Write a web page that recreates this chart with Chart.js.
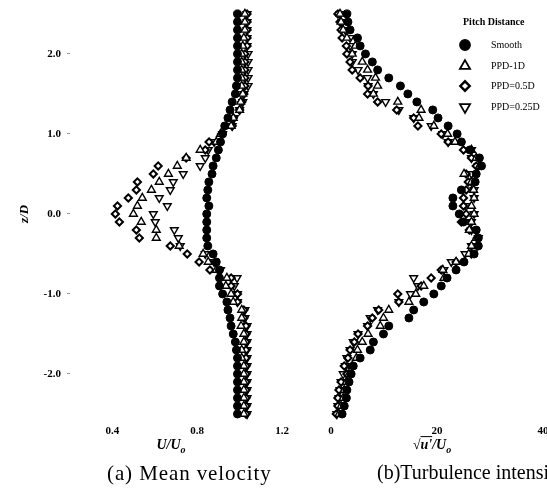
<!DOCTYPE html>
<html>
<head>
<meta charset="utf-8">
<script src="https://cdn.jsdelivr.net/npm/chart.js@4.4.1/dist/chart.umd.min.js"></script>
<style>
    html, body { margin: 0; padding: 0; background: #fff; }
    body {
        width: 547px; height: 494px; overflow: hidden; position: relative;
        font-family: "Liberation Serif", "Times New Roman", serif; color: #000;
    }
    canvas { position: absolute; top: 0; }
    #meanChart { left: 0; }
    #turbChart { left: 300px; }
    .axis-title {
        position: absolute; font-weight: bold; font-style: italic; font-size: 14px;
        white-space: nowrap; transform: translate(-50%, -50%);
    }
    .axis-title sub { font-size: 10px; }
    .caption { position: absolute; top: 461px; font-size: 20px; white-space: nowrap; }
</style>
</head>
<body>
<canvas id="meanChart" width="300" height="440"></canvas>
<canvas id="turbChart" width="260" height="440"></canvas>
<div class="axis-title" style="left:171px; top:446px;">U/U<sub>o</sub></div>
<div class="axis-title" style="left:432px; top:446px;">√<span style="text-decoration:overline">u'</span>/U<sub>o</sub></div>
<div class="caption" style="left:107px; font-size:21px; letter-spacing:0.9px;">(a) Mean velocity</div>
<div class="caption" style="left:377px;">(b)Turbulence intensity</div>

<script>
// --- data: z/D levels (top to bottom) ---
const zLevels = [
    2.5, 2.4, 2.3, 2.2, 2.1, 2.0, 1.9, 1.8, 1.7, 1.6,
    1.5, 1.4, 1.3, 1.2, 1.1, 1.0, 0.9, 0.8, 0.7, 0.6,
    0.5, 0.4, 0.3, 0.2, 0.1, 0.0, -0.1, -0.2, -0.3, -0.4,
    -0.5, -0.6, -0.7, -0.8, -0.9, -1.0, -1.1, -1.2, -1.3, -1.4,
    -1.5, -1.6, -1.7, -1.8, -1.9, -2.0, -2.1, -2.2, -2.3, -2.4,
    -2.5
];

// (a) mean velocity U/Uo
const meanSmooth = [
    0.99, 0.99, 0.99, 0.99, 0.99, 0.99, 0.99, 0.99, 0.99, 0.985,
    0.98, 0.965, 0.955, 0.945, 0.93, 0.92, 0.91, 0.90, 0.89, 0.875,
    0.87, 0.855, 0.85, 0.845, 0.855, 0.845, 0.845, 0.845, 0.845, 0.85,
    0.875, 0.89, 0.905, 0.905, 0.905, 0.92, 0.94, 0.945, 0.955, 0.96,
    0.97, 0.98, 0.985, 0.99, 0.99, 0.99, 0.99, 0.99, 0.99, 0.99,
    0.99
];
const meanPPD1 = [
    1.025, 1.025, 1.025, 1.02, 1.015, 1.01, 1.01, 1.01, 1.01, 1.01,
    1.015, 1.005, 1.0, 0.97, 0.96, 0.91, 0.89, 0.814, 0.748, 0.706,
    0.664, 0.621, 0.584, 0.541, 0.518, 0.499, 0.536, 0.607, 0.607, 0.715,
    0.828, 0.852, 0.89, 0.94, 0.935, 0.96, 0.97, 1.01, 1.01, 1.007,
    1.02, 1.02, 1.01, 1.01, 1.02, 1.02, 1.02, 1.02, 1.02, 1.02,
    1.02
];
const meanPPD05 = [
    1.035, 1.035, 1.035, 1.035, 1.035, 1.025, 1.025, 1.025, 1.025, 1.025,
    1.02, 1.01, 1.0, 0.97, 0.965, 0.915, 0.856, 0.838, 0.748, 0.616,
    0.593, 0.518, 0.513, 0.475, 0.424, 0.414, 0.433, 0.513, 0.527, 0.673,
    0.753, 0.809, 0.86, 0.96, 0.96, 0.99, 0.99, 1.02, 1.02, 1.03,
    1.03, 1.03, 1.03, 1.03, 1.03, 1.03, 1.03, 1.03, 1.03, 1.03,
    1.03
];
const meanPPD025 = [
    1.035, 1.035, 1.035, 1.035, 1.035, 1.04, 1.04, 1.04, 1.04, 1.04,
    1.02, 1.015, 1.0, 0.975, 0.965, 0.92, 0.88, 0.852, 0.838, 0.814,
    0.734, 0.687, 0.673, 0.621, 0.659, 0.593, 0.602, 0.692, 0.711, 0.72,
    0.838, 0.88, 0.91, 0.988, 0.975, 0.99, 0.99, 1.025, 1.025, 1.035,
    1.035, 1.035, 1.035, 1.035, 1.035, 1.035, 1.035, 1.035, 1.035, 1.035,
    1.035
];

// (b) turbulence intensity sqrt(u'^2)/Uo (%)
const turbSmooth = [
    3.0, 3.2, 3.6, 5.0, 5.5, 6.5, 7.8, 8.8, 10.9, 13.1,
    14.5, 16.2, 19.2, 20.2, 22.1, 23.8, 24.6, 26.2, 28.0, 28.4,
    27.4, 27.2, 24.6, 23.0, 23.0, 24.2, 25.0, 27.4, 27.8, 27.8,
    27.0, 25.1, 23.6, 21.9, 20.8, 19.4, 17.5, 15.6, 14.7, 10.9,
    9.9, 8.0, 7.4, 5.5, 4.2, 3.8, 3.4, 3.0, 2.9, 2.5,
    2.1
];
const turbPPD1 = [
    1.7, 1.9, 2.3, 3.0, 4.6, 4.0, 5.9, 6.9, 8.4, 8.8,
    8.0, 12.6, 17.0, 16.6, 19.4, 22.0, 23.4, 26.5, 27.4, 28.0,
    25.1, 26.5, 26.9, 27.0, 26.5, 27.0, 26.5, 26.1, 27.4, 26.5,
    26.0, 23.6, 21.1, 21.3, 17.5, 16.0, 14.7, 10.9, 9.9, 9.3,
    7.0, 5.9, 5.0, 4.8, 4.0, 3.4, 2.9, 2.5, 2.3, 1.9,
    1.5
];
const turbPPD05 = [
    1.3, 1.7, 1.9, 2.1, 2.9, 3.0, 3.6, 4.0, 5.5, 7.0,
    6.9, 8.8, 12.4, 15.6, 16.4, 20.8, 22.1, 25.0, 26.5, 27.4,
    25.5, 25.9, 25.5, 25.0, 25.0, 25.5, 24.6, 26.1, 27.6, 27.6,
    26.5, 23.6, 20.8, 18.9, 17.0, 12.6, 12.8, 9.0, 7.8, 6.9,
    5.1, 4.4, 3.6, 3.2, 2.5, 3.0, 1.9, 1.5, 1.3, 1.3,
    1.0
];
const turbPPD025 = [
    1.7, 2.1, 2.7, 3.6, 3.6, 4.0, 4.0, 5.1, 6.9, 7.0,
    8.0, 10.3, 12.8, 15.6, 18.9, 21.1, 22.1, 26.5, 26.5, 27.8,
    26.5, 26.5, 27.0, 27.0, 25.5, 27.0, 26.5, 26.5, 27.8, 26.5,
    25.3, 22.7, 21.3, 15.6, 16.4, 15.0, 12.8, 8.8, 7.4, 6.9,
    5.1, 4.2, 3.6, 3.0, 2.7, 2.3, 1.9, 1.7, 1.5, 1.3,
    1.1
];

const seriesNames = ['Smooth', 'PPD-1D', 'PPD=0.5D', 'PPD=0.25D'];
const meanTicks = [0.4, 0.8, 1.2];
const turbTicks = [0, 20, 40];
const zTicks = [2, 1, 0, -1, -2];

// --- marker look per series ---
const markerStyles = [
    { pointStyle: 'circle',   radius: 4,   rotation: 0,   fill: '#000', borderWidth: 1 },
    { pointStyle: 'triangle', radius: 4.5, rotation: 0,   fill: '#fff', borderWidth: 1.4 },
    { pointStyle: 'rectRot',  radius: 3.6, rotation: 0,   fill: '#fff', borderWidth: 2 },
    { pointStyle: 'triangle', radius: 4.5, rotation: 180, fill: '#fff', borderWidth: 1.4 }
];

const serif = '"Liberation Serif", "Times New Roman", serif';
const tickFont = { family: serif, size: 11, weight: 'bold' };

function buildDatasets(seriesList) {
    return seriesList.map((values, i) => ({
        label: seriesNames[i],
        data: values.map((v, k) => ({ x: v, y: zLevels[k] })),
        pointStyle: markerStyles[i].pointStyle,
        pointRadius: markerStyles[i].radius,
        pointHoverRadius: markerStyles[i].radius,
        pointRotation: markerStyles[i].rotation,
        pointBackgroundColor: markerStyles[i].fill,
        pointBorderColor: '#000',
        pointBorderWidth: markerStyles[i].borderWidth
    }));
}

// legend drawn inside panel (b)
const pitchLegend = {
    id: 'pitchLegend',
    afterDraw(chart) {
        const ctx = chart.ctx;
        const rows = [45, 66, 86, 107];
        ctx.save();
        ctx.textBaseline = 'middle';
        ctx.fillStyle = '#000';
        ctx.font = 'bold 10px ' + serif;
        ctx.fillText('Pitch Distance', 163, 22);
        ctx.font = '10px ' + serif;
        seriesNames.forEach((name, i) => {
            const m = markerStyles[i];
            ctx.fillStyle = m.fill;
            ctx.strokeStyle = '#000';
            ctx.lineWidth = m.borderWidth + 0.4;
            Chart.helpers.drawPoint(ctx, {
                pointStyle: m.pointStyle,
                radius: m.radius * 1.3,
                rotation: m.rotation,
                borderWidth: m.borderWidth + 0.4
            }, 165, rows[i]);
            ctx.fillStyle = '#000';
            ctx.fillText(name, 191, rows[i]);
        });
        ctx.restore();
    }
};

const commonOptions = {
    responsive: false,
    animation: false,
    devicePixelRatio: 1,
    events: [],
    plugins: { legend: { display: false }, tooltip: { enabled: false } }
};

// fixed axis boxes so both panels share the same z scale
function fixXBox(s) { s.height = 18; s.paddingLeft = 0; s.paddingRight = 0; }
function fixYBox(s) { s.width = 70; s.paddingTop = 0; s.paddingBottom = 0; }

// --- (a) mean velocity ---
new Chart(document.getElementById('meanChart'), {
    type: 'scatter',
    data: { datasets: buildDatasets([meanSmooth, meanPPD1, meanPPD05, meanPPD025]) },
    options: {
        ...commonOptions,
        layout: { padding: { left: 0, right: 18, top: 4, bottom: 0 } },
        scales: {
            x: {
                type: 'linear', min: 0.2, max: 1.2,
                grid: { display: false, drawTicks: false }, border: { display: false },
                afterBuildTicks: s => { s.ticks = meanTicks.map(v => ({ value: v })); },
                afterFit: fixXBox,
                ticks: { font: tickFont, color: '#000', padding: 3, maxRotation: 0, callback: v => v.toFixed(1) }
            },
            y: {
                type: 'linear', min: -2.6, max: 2.6,
                grid: { display: true, drawOnChartArea: false, drawTicks: true, tickLength: 3, color: '#999' },
                border: { display: false },
                afterBuildTicks: s => { s.ticks = zTicks.map(v => ({ value: v })); },
                afterFit: fixYBox,
                title: {
                    display: true, text: 'z/D', color: '#000',
                    font: { family: serif, size: 13, weight: 'bold', style: 'italic' },
                    padding: { top: 17, bottom: 0 }
                },
                ticks: { font: tickFont, color: '#000', padding: 6, callback: v => v.toFixed(1) }
            }
        }
    }
});

// --- (b) turbulence intensity ---
new Chart(document.getElementById('turbChart'), {
    type: 'scatter',
    data: { datasets: buildDatasets([turbSmooth, turbPPD1, turbPPD05, turbPPD025]) },
    options: {
        ...commonOptions,
        layout: { padding: { left: 31, right: 17, top: 4, bottom: 0 } },
        scales: {
            x: {
                type: 'linear', min: 0, max: 40,
                grid: { display: false, drawTicks: false }, border: { display: false },
                afterBuildTicks: s => { s.ticks = turbTicks.map(v => ({ value: v })); },
                afterFit: fixXBox,
                ticks: { font: tickFont, color: '#000', padding: 3, maxRotation: 0, callback: v => String(v) }
            },
            y: { type: 'linear', min: -2.6, max: 2.6, display: false }
        }
    },
    plugins: [pitchLegend]
});
</script>
</body>
</html>
